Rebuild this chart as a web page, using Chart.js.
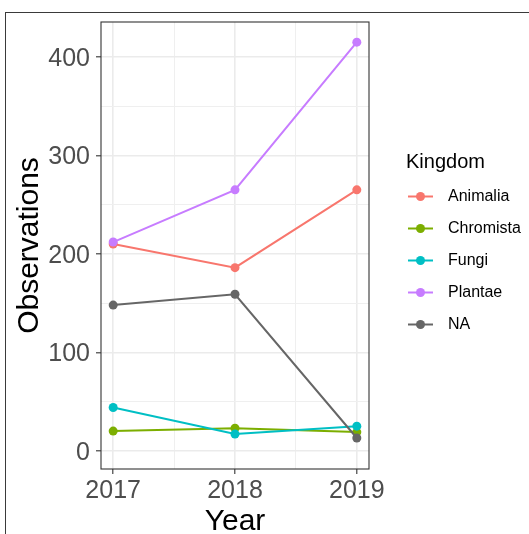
<!DOCTYPE html>
<html><head><meta charset="utf-8">
<script src="https://cdn.jsdelivr.net/npm/chart.js@4.4.1/dist/chart.umd.min.js"></script>
<style>
html,body{margin:0;padding:0;background:#fff;}
#wrap{position:relative;width:529px;height:534px;overflow:hidden;}
#frame{position:absolute;left:5px;top:12px;width:700px;height:700px;border-top:1px solid #3a3a3a;border-left:1px solid #3a3a3a;pointer-events:none;}
canvas{position:absolute;left:0;top:0;}
</style></head><body>
<div id="wrap"><canvas id="c" width="529" height="534"></canvas><div id="frame"></div></div>
<script>
const years = [2017, 2018, 2019];
const kingdoms = ['Animalia', 'Chromista', 'Fungi', 'Plantae', 'NA'];
const animalia = [210, 186, 265];
const chromista = [20, 23, 19];
const fungi = [44, 17, 25];
const plantae = [212, 265, 415];
const naValues = [148, 159, 13];
const yTicks = [0, 100, 200, 300, 400];
const yMinor = [50, 150, 250, 350];
const xTicks = [2017, 2018, 2019];
const xMinor = [2017.5, 2018.5];
const colors = ['#F8766D', '#7CAE00', '#00BFC4', '#C77CFF', '#666666'];
const legendTitle = 'Kingdom';

const seriesValues = [animalia, chromista, fungi, plantae, naValues];
const FONT = "'Liberation Sans', Arial, Helvetica, sans-serif";

const datasets = kingdoms.map((k, i) => ({
  label: k,
  data: years.map((yr, j) => ({x: yr, y: seriesValues[i][j]})),
  borderColor: colors[i],
  backgroundColor: colors[i],
  pointBackgroundColor: colors[i],
  pointBorderColor: colors[i],
  borderWidth: 2,
  pointRadius: 4.5,
  pointBorderWidth: 0,
  tension: 0,
  fill: false,
  order: kingdoms.length - i
}));

const isIn = (arr, v) => arr.some(a => Math.abs(a - v) < 1e-6);

const gridOpts = (major) => ({
  color: ctx => (ctx.tick && isIn(major, ctx.tick.value)) ? '#EBEBEB' : '#EFEFEF',
  lineWidth: ctx => (ctx.tick && isIn(major, ctx.tick.value)) ? 1.6 : 1,
  tickColor: ctx => (ctx.tick && isIn(major, ctx.tick.value)) ? '#333333' : 'rgba(0,0,0,0)',
  tickWidth: 1.1,
  tickLength: 5,
  drawOnChartArea: true,
  drawTicks: true
});

const panelBorder = {
  id: 'panelBorder',
  afterDatasetsDraw(chart) {
    const {ctx, chartArea: a} = chart;
    ctx.save();
    ctx.strokeStyle = '#333333';
    ctx.lineWidth = 1.1;
    ctx.strokeRect(a.left, a.top, a.right - a.left, a.bottom - a.top);
    ctx.restore();
  }
};

const ggLegend = {
  id: 'ggLegend',
  afterDraw(chart) {
    const ctx = chart.ctx;
    ctx.save();
    ctx.fillStyle = '#000';
    ctx.font = '20px ' + FONT;
    ctx.textAlign = 'left';
    ctx.textBaseline = 'alphabetic';
    ctx.fillText(legendTitle, 406, 168);
    chart.data.datasets.forEach((ds, i) => {
      const y = 196.5 + i * 32;
      ctx.strokeStyle = ds.borderColor;
      ctx.lineWidth = 2;
      ctx.beginPath();
      ctx.moveTo(408, y);
      ctx.lineTo(433, y);
      ctx.stroke();
      ctx.fillStyle = ds.borderColor;
      ctx.beginPath();
      ctx.arc(420.5, y, 4.5, 0, Math.PI * 2);
      ctx.fill();
      ctx.fillStyle = '#000';
      ctx.font = '16px ' + FONT;
      ctx.textBaseline = 'middle';
      ctx.fillText(ds.label, 448, y);
    });
    ctx.restore();
  }
};

new Chart(document.getElementById('c'), {
  type: 'line',
  data: {datasets},
  plugins: [panelBorder, ggLegend],
  options: {
    responsive: false,
    devicePixelRatio: 1,
    animation: false,
    layout: {padding: {left: 0, right: 160, top: 22, bottom: 0}},
    plugins: {legend: {display: false}, tooltip: {enabled: false}},
    scales: {
      x: {
        type: 'linear',
        min: 2016.9,
        max: 2019.1,
        afterBuildTicks: s => { s.ticks = [...xTicks, ...xMinor].sort((a, b) => a - b).map(v => ({value: v})); },
        afterFit: s => { s.height = 65; },
        grid: gridOpts(xTicks),
        border: {display: false},
        ticks: {
          callback: v => isIn(xTicks, v) ? String(v) : '',
          color: '#4D4D4D',
          font: {family: FONT, size: 25},
          padding: 2,
          maxRotation: 0,
          autoSkip: false
        },
        title: {display: true, text: 'Year', color: '#000', font: {family: FONT, size: 30, lineHeight: 0.8}, padding: {top: 0, bottom: 0}}
      },
      y: {
        type: 'linear',
        min: -18.5,
        max: 435.5,
        afterBuildTicks: s => { s.ticks = [...yTicks, ...yMinor].sort((a, b) => a - b).map(v => ({value: v})); },
        afterFit: s => { s.width = 101; },
        grid: gridOpts(yTicks),
        border: {display: false},
        ticks: {
          callback: v => isIn(yTicks, v) ? String(v) : '',
          color: '#4D4D4D',
          font: {family: FONT, size: 25},
          padding: 6,
          labelOffset: 2,
          autoSkip: false
        },
        title: {display: true, text: 'Observations', color: '#000', font: {family: FONT, size: 30}, padding: {top: 12, bottom: 0}}
      }
    }
  }
});
</script>
</body></html>
